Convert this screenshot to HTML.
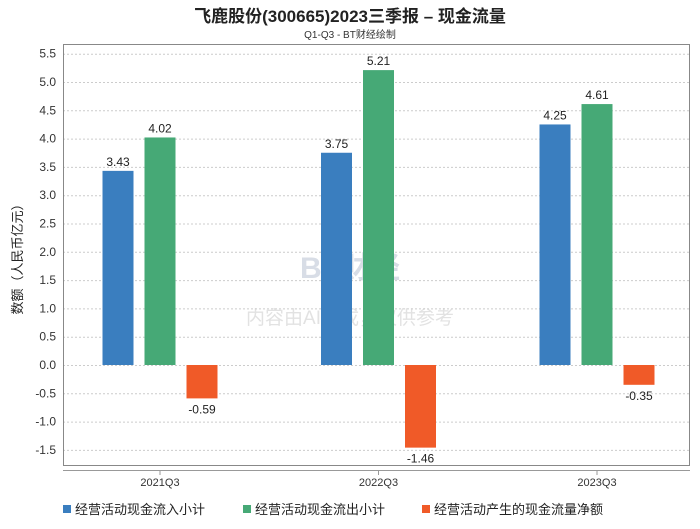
<!DOCTYPE html>
<html><head><meta charset="utf-8"><style>
body{margin:0;background:#fff;font-family:"Liberation Sans","Noto Sans CJK SC",sans-serif;}
</style></head><body>
<svg id="c" width="700" height="524" xmlns="http://www.w3.org/2000/svg" font-family="Liberation Sans, Noto Sans CJK SC, sans-serif">
<text x="350" y="22" text-anchor="middle" font-size="17" font-weight="bold" fill="#222">飞鹿股份(300665)2023三季报 – 现金流量</text>
<text x="350" y="38" text-anchor="middle" font-size="10" fill="#333">Q1-Q3 - BT财经绘制</text>
<text x="350" y="278" text-anchor="middle" font-size="30" font-weight="bold" fill="#d8dde6">BT财经</text>
<text x="350" y="324" text-anchor="middle" font-size="19" fill="#e2e2e2">内容由AI生成，仅供参考</text>
<text transform="translate(22,256) rotate(-90)" text-anchor="middle" font-size="13" fill="#222">数额（人民币亿元）</text>
<g id="grid"></g><g id="bars"></g>
<rect x="63.5" y="44.5" width="626" height="421" fill="none" stroke="#888"/>
<line x1="63" y1="470.5" x2="690" y2="470.5" stroke="#999"/>
<g id="legend" font-size="13" fill="#222">
<rect x="63" y="505" width="8" height="8" fill="#3a7ebf"/>
<text x="75" y="514">经营活动现金流入小计</text>
<rect x="243" y="505" width="8" height="8" fill="#46a976"/>
<text x="255" y="514">经营活动现金流出小计</text>
<rect x="422" y="505" width="8" height="8" fill="#f05a28"/>
<text x="434" y="514">经营活动产生的现金流量净额</text>
</g>
</svg>
<script>
const categories=["2021Q3","2022Q3","2023Q3"];
const inflow=[3.43,3.75,4.25];
const outflow=[4.02,5.21,4.61];
const net=[-0.59,-1.46,-0.35];
const yTicks=[5.5,5.0,4.5,4.0,3.5,3.0,2.5,2.0,1.5,1.0,0.5,0.0,-0.5,-1.0,-1.5];
const NS="http://www.w3.org/2000/svg";
const y=v=>365-v*56.6;
const xc=i=>160+i*218.5;
function mk(t,a,p){const e=document.createElementNS(NS,t);for(const k in a)e.setAttribute(k,a[k]);p.appendChild(e);return e;}
const g=document.getElementById('grid'),b=document.getElementById('bars'),svg=document.getElementById('c');
yTicks.forEach(v=>{
 const l=mk('line',{x1:63,x2:690,y1:y(v)+0.5,y2:y(v)+0.5,stroke:'#ccc','stroke-dasharray':'2,2'},g);
 
 
 const t=mk('text',{x:56,y:y(v)+4,'text-anchor':'end','font-size':12,fill:'#333'},g);
 t.textContent=v.toFixed(1);
 
 
});
categories.forEach((c,i)=>{
 const tk=mk('line',{x1:xc(i),x2:xc(i),y1:470,y2:475,stroke:'#999'},g);
 
 
 const t=mk('text',{x:xc(i),y:486,'text-anchor':'middle','font-size':11,fill:'#333'},g);
 t.textContent=c;
 
 
});
const series=[[inflow,'#3a7ebf',-42,'inflow'],[outflow,'#46a976',0,'outflow'],[net,'#f05a28',42,'net']];
series.forEach(([arr,col,off,nm])=>{
 arr.forEach((v,i)=>{
  const x=xc(i)+off-15.5,top=Math.min(y(v),y(0)),h=Math.abs(y(v)-y(0));
  const r=mk('rect',{x:x,y:top,width:31,height:h,fill:col},b);
  
  
  const t=mk('text',{x:x+15.5,y:v>=0?y(v)-5:y(v)+15,'text-anchor':'middle','font-size':12,fill:'#222'},b);
  t.textContent=v.toFixed(2);
  
  
 });
});
</script>
</body></html>
